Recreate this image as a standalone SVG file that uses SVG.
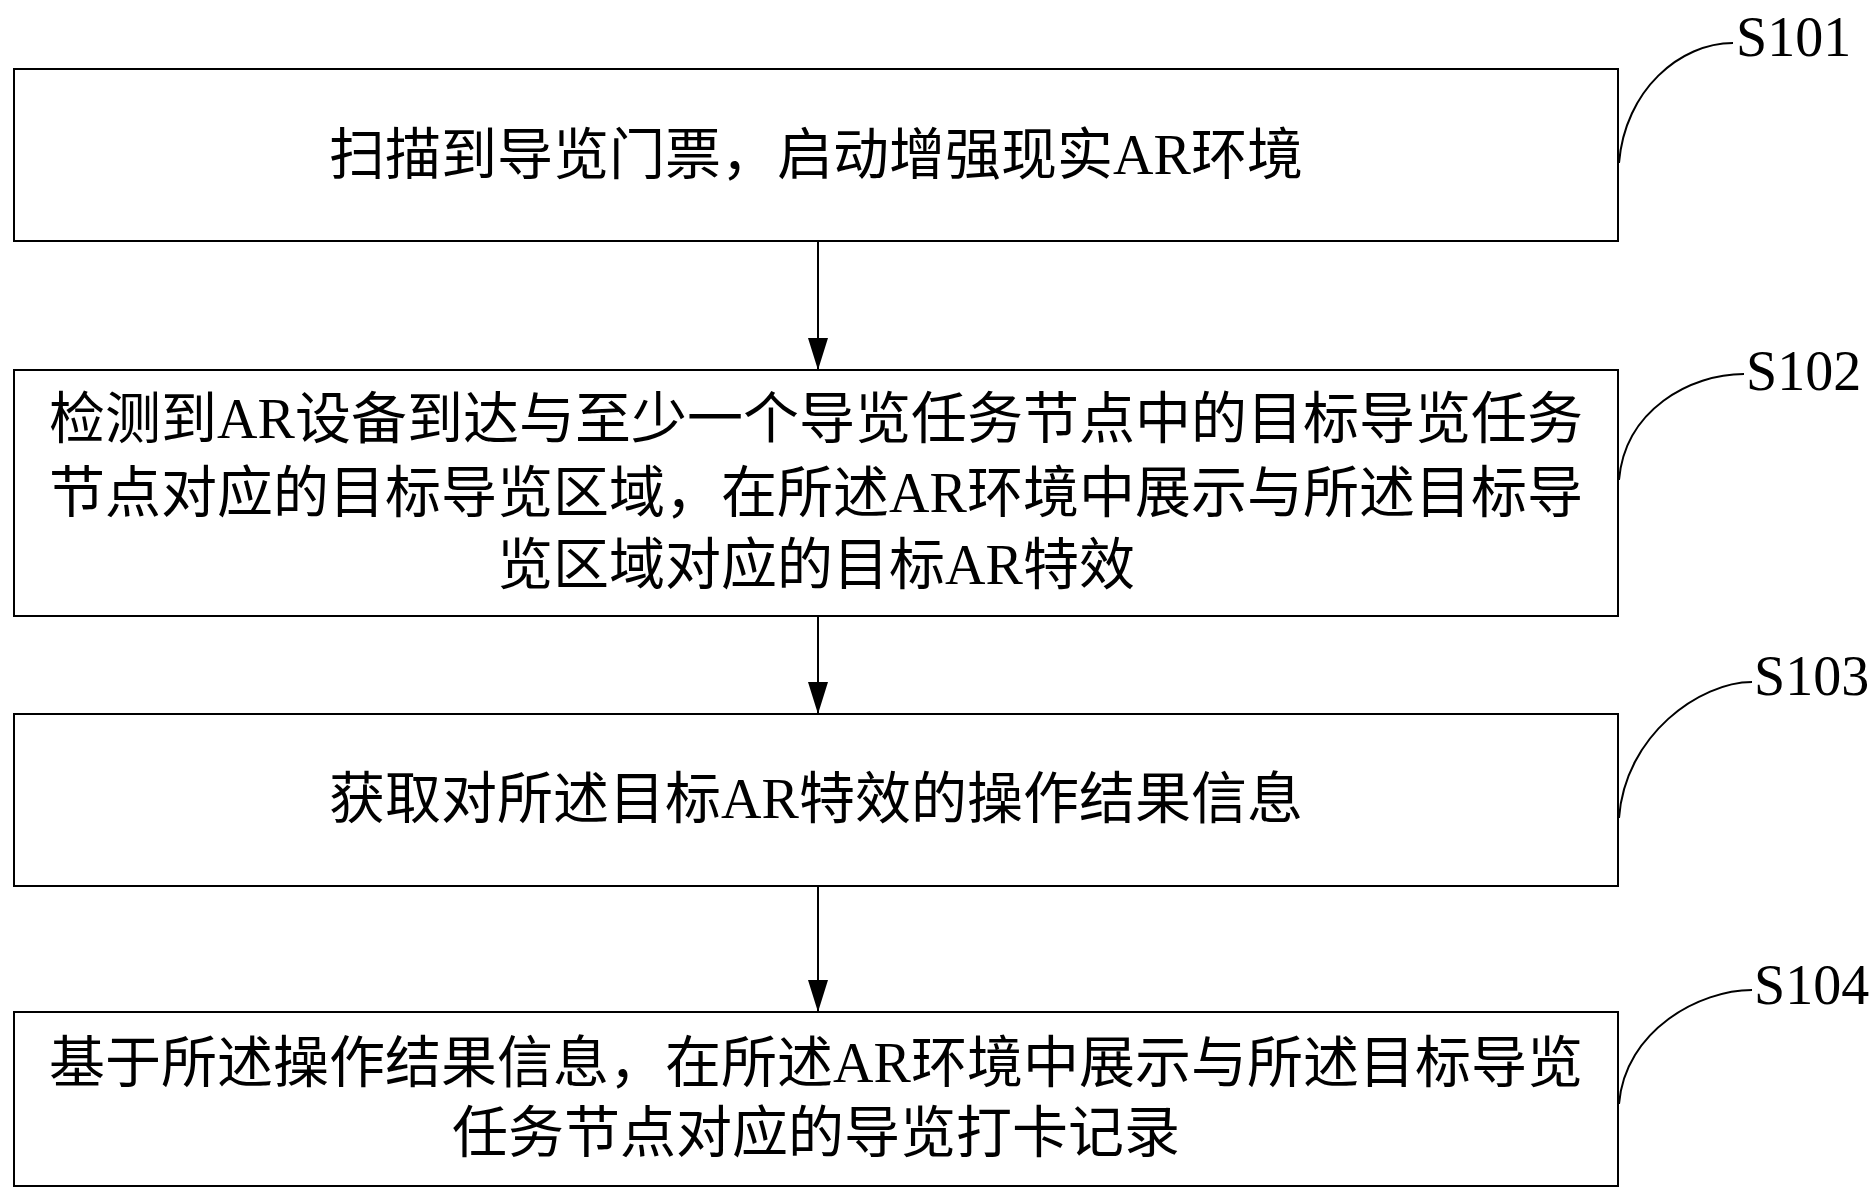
<svg xmlns="http://www.w3.org/2000/svg" width="1875" height="1195" viewBox="0 0 1875 1195">
<style>
.b{fill:#fff;stroke:#000;stroke-width:2}
.t{font-family:"Liberation Serif","Noto Sans CJK SC",serif;font-size:56px;text-anchor:middle;fill:#000}
.l{font-family:"Liberation Serif",serif;font-size:56px;fill:#000}
.c{fill:none;stroke:#000;stroke-width:2}
</style>
<defs><marker id="a" markerWidth="32" markerHeight="20" refX="32" refY="10" orient="auto" markerUnits="userSpaceOnUse"><path d="M0,0 L32,10 L0,20 z" fill="#000"/></marker></defs>
<rect width="1875" height="1195" fill="#fff"/>
<g id="n1"><rect class="b" x="14" y="69" width="1604" height="172"/><text class="t" x="816" y="174">扫描到导览门票，启动增强现实AR环境</text></g>
<g id="n2"><rect class="b" x="14" y="370" width="1604" height="246"/><text class="t" x="816" y="438">检测到AR设备到达与至少一个导览任务节点中的目标导览任务</text><text class="t" x="816" y="512">节点对应的目标导览区域，在所述AR环境中展示与所述目标导</text><text class="t" x="816" y="584">览区域对应的目标AR特效</text></g>
<g id="n3"><rect class="b" x="14" y="714" width="1604" height="172"/><text class="t" x="816" y="818">获取对所述目标AR特效的操作结果信息</text></g>
<g id="n4"><rect class="b" x="14" y="1012" width="1604" height="174"/><text class="t" x="816" y="1082">基于所述操作结果信息，在所述AR环境中展示与所述目标导览</text><text class="t" x="816" y="1152">任务节点对应的导览打卡记录</text></g>
<g id="labels">
<path class="c" d="M1619,163 C1625,90 1680,43 1733,43"/><text class="l" x="1736" y="56">S101</text>
<path class="c" d="M1619,480 C1625,410 1690,374 1744,374"/><text class="l" x="1746" y="390">S102</text>
<path class="c" d="M1619,818 C1625,735 1700,682 1752,682"/><text class="l" x="1754" y="695">S103</text>
<path class="c" d="M1619,1104 C1625,1030 1700,990 1752,990"/><text class="l" x="1754" y="1004">S104</text>
</g>
<g id="connectors">
<line class="c" x1="818" y1="241" x2="818" y2="370" marker-end="url(#a)"/>
<line class="c" x1="818" y1="616" x2="818" y2="714" marker-end="url(#a)"/>
<line class="c" x1="818" y1="886" x2="818" y2="1012" marker-end="url(#a)"/>
</g>
</svg>
